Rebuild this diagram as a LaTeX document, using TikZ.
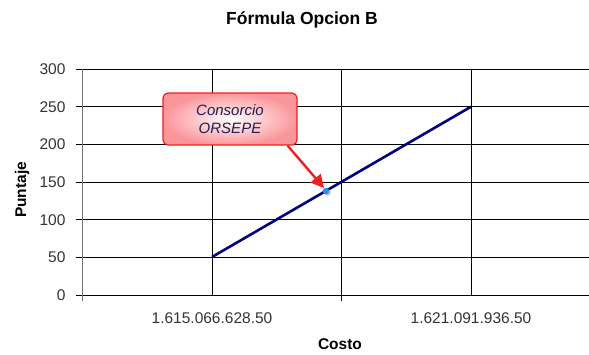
\documentclass[tikz,border=0pt]{standalone}
\usepackage{fontspec}
\setmainfont{Liberation Sans}
\usetikzlibrary{arrows.meta,positioning}
\definecolor{lineblue}{RGB}{0,0,128}
\definecolor{dotblue}{RGB}{40,140,240}
\definecolor{calloutred}{RGB}{240,30,30}
\definecolor{calloutpink}{RGB}{250,150,155}
\definecolor{callouttext}{RGB}{30,30,80}

\begin{document}
\begin{tikzpicture}[x=1pt,y=-1pt,
  gridline/.style={black,line width=0.8pt},
  axisline/.style={black!55,line width=1pt},
  ticklabel/.style={font=\fontsize{15.5}{17}\selectfont,text=black!80},
  axislabel/.style={font=\fontsize{15.5}{18}\selectfont\bfseries},
  callout/.style={draw=calloutred,line width=1.2pt,rounded corners=5pt,
    inner color=white,outer color=calloutpink,minimum width=134pt,
    minimum height=52pt,align=center,text=callouttext,
    font=\fontsize{15}{18}\selectfont\itshape}]
\useasboundingbox (0,0) rectangle (589,354);
% title
\node[font=\fontsize{17.5}{20}\selectfont\bfseries] (title) at (302,20) {Fórmula Opcion B};
% grid
\foreach \v/\y in {50/257,100/219.7,150/182,200/144.3,250/106.7,300/69}{
  \draw[gridline] (76,\y) -- (589,\y);
  \node[ticklabel,anchor=east] (y\v) at (69,\y) {\v};
}
\node[ticklabel,anchor=east] (y0) at (69,295) {0};
\foreach \x in {212,341,471}
  \draw[gridline] (\x,69) -- (\x,295);
\draw[gridline] (76,295) -- (589,295);
\draw[gridline] (341,295) -- (341,301);
\draw[axisline] (82,69) -- (82,301);
% axis labels
\node[ticklabel] (xa) at (212,318) {1.615.066.628.50};
\node[ticklabel] (xb) at (471,318) {1.621.091.936.50};
\node[axislabel] (costo) at (340,344) {Costo};
\node[axislabel,rotate=90] (puntaje) at (22,190) {Puntaje};
% data
\coordinate (p1) at (212,257);
\coordinate (p2) at (471,106.7);
\draw[lineblue,line width=2.6pt] (p1) -- (p2);
\fill[black!25] (327.5,192.5) circle (3.2pt);
\fill[dotblue] (326,191) circle (3.2pt) coordinate (orsepe);
% callout
\node[callout] (box) at (230,119) {Consorcio\\ORSEPE};
\draw[calloutred,line width=2.4pt,-{Triangle[length=13pt,width=13pt]}]
  (box.south east) ++(-10,0) coordinate (tail) -- ([shift={(-2,-3)}]orsepe);
\end{tikzpicture}
\end{document}
